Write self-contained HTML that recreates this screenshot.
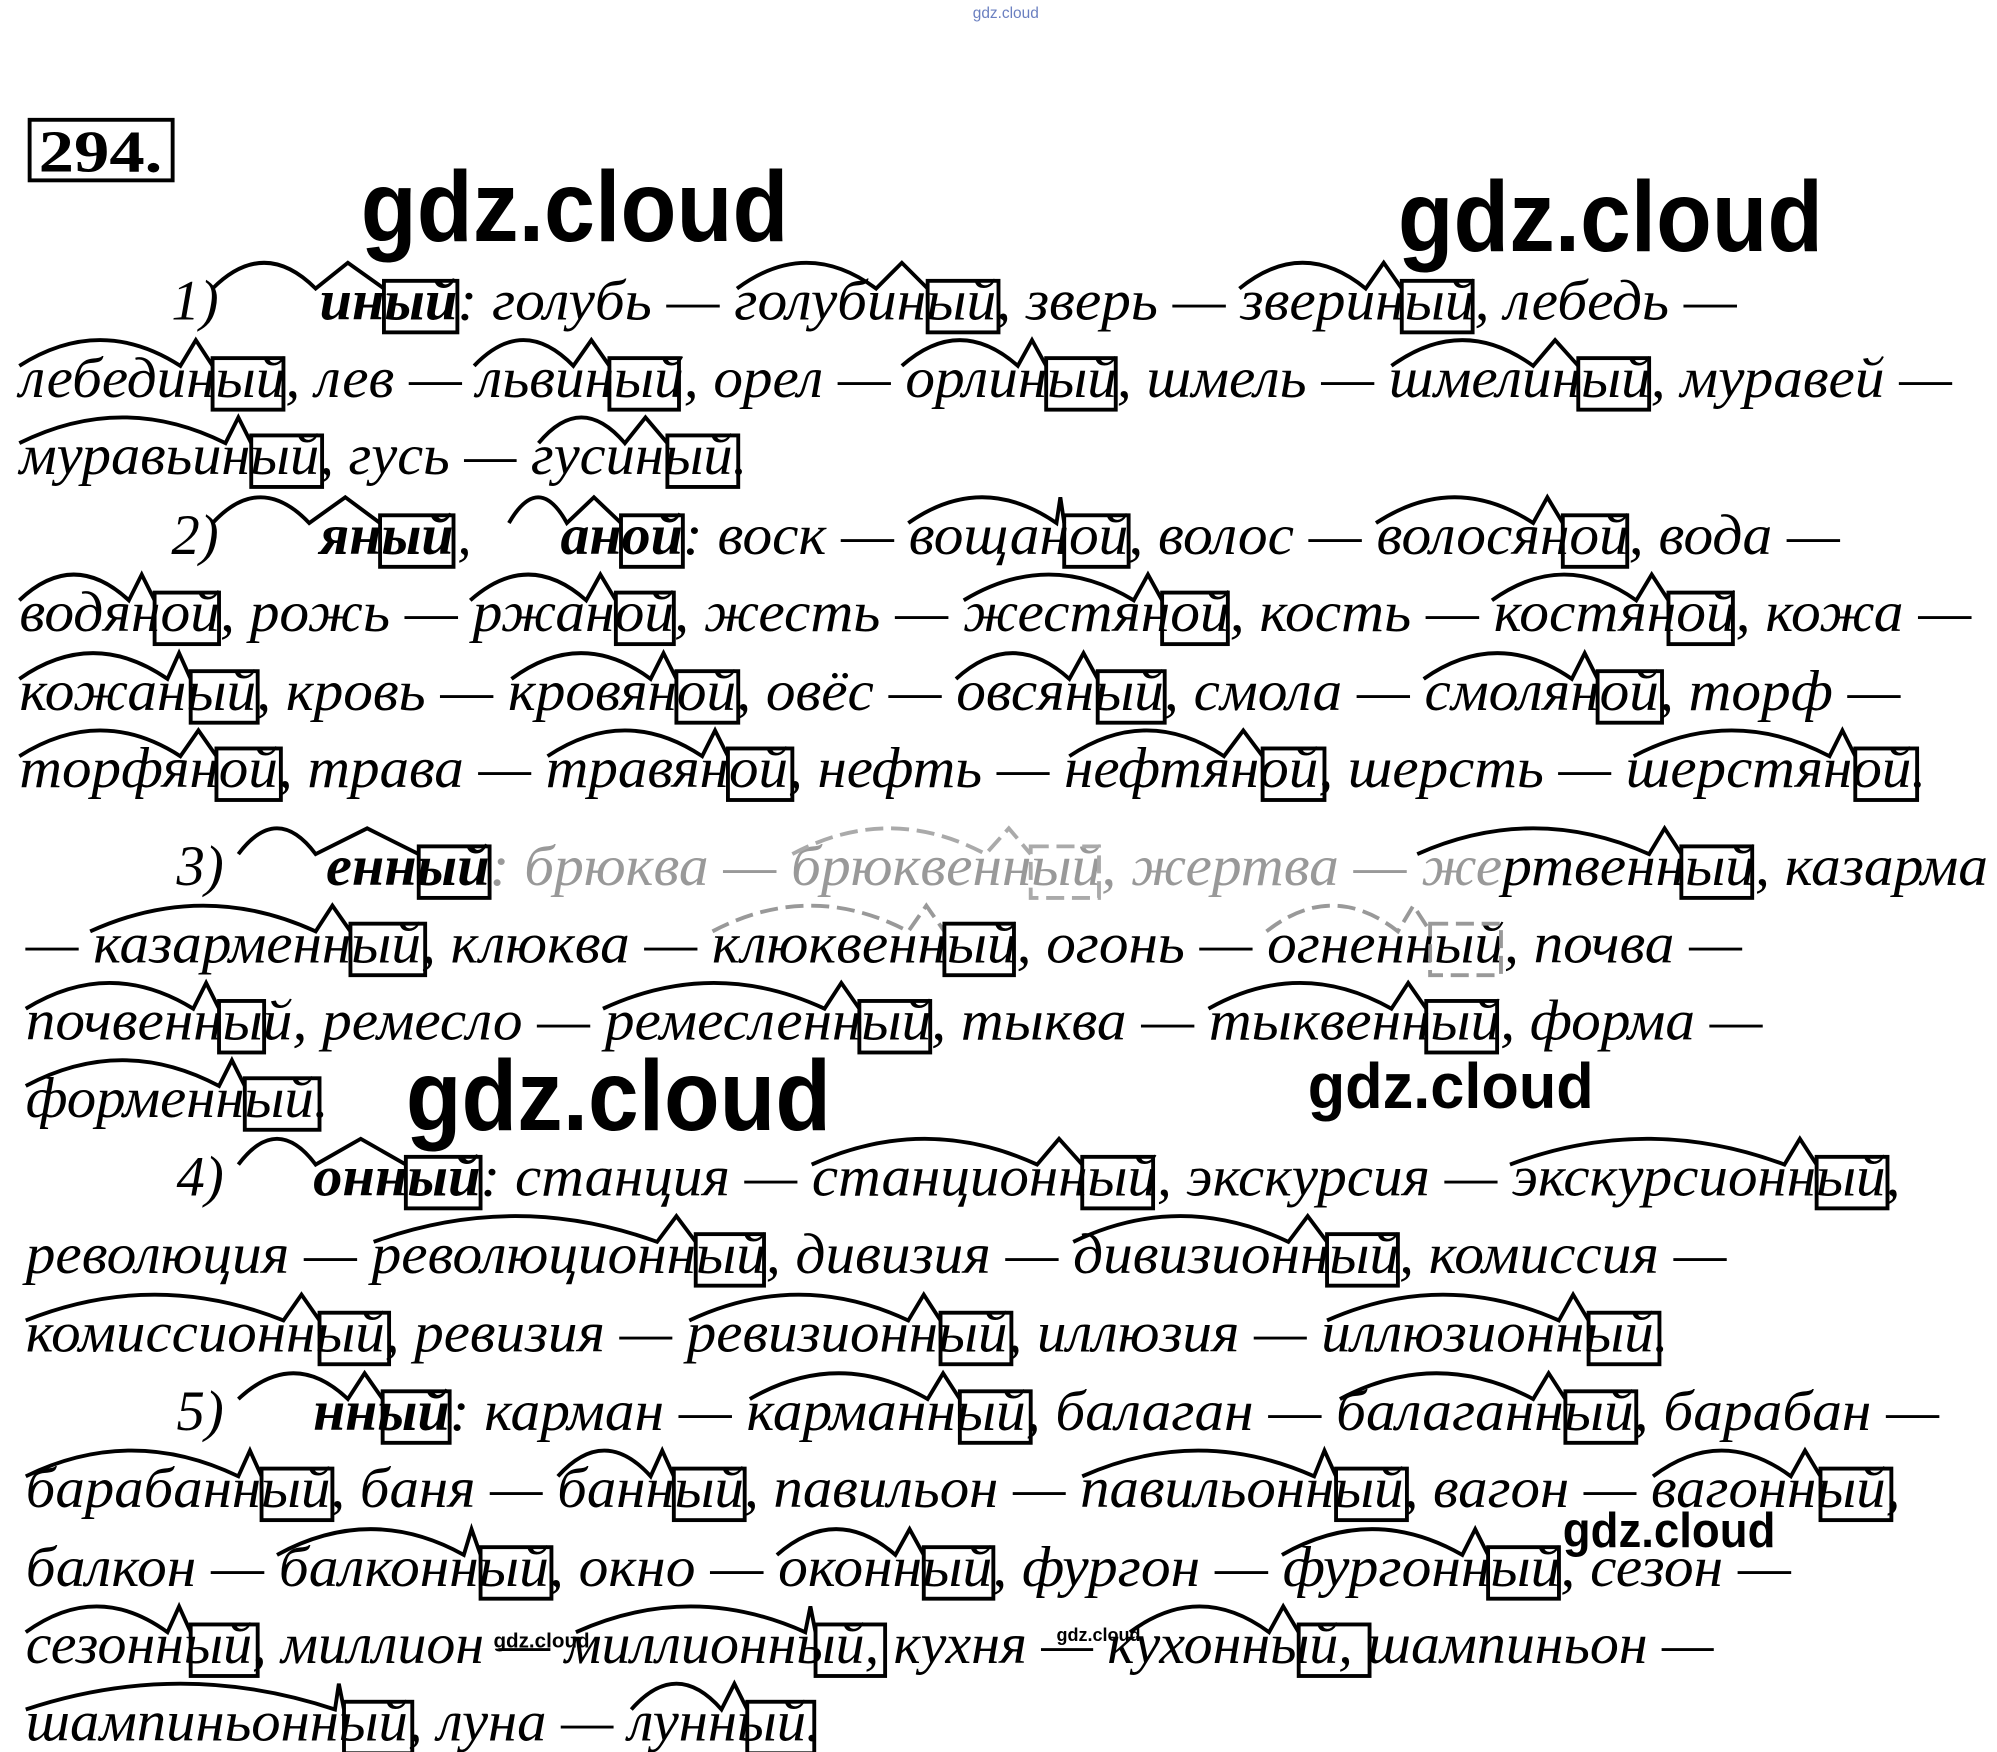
<!DOCTYPE html>
<html><head><meta charset="utf-8"><style>
html,body{margin:0;padding:0;background:#fff;}
svg{display:block;}
.t{font-family:"Liberation Serif",serif;font-style:italic;font-size:44px;fill:#000;}
.b{font-family:"Liberation Serif",serif;font-style:italic;font-weight:bold;font-size:44px;fill:#000;}
.w{font-family:"Liberation Sans",sans-serif;font-weight:bold;fill:#000;}
.m path{fill:none;stroke:#000;stroke-width:3;}
.m rect{fill:none;stroke:#000;stroke-width:3;}
</style></head><body>
<svg width="1997" height="1752" viewBox="0 0 1550 1360" preserveAspectRatio="none" xmlns="http://www.w3.org/2000/svg">
<text x="755" y="14" font-family="Liberation Sans,sans-serif" font-size="12" style="fill:#6a7fc0">gdz.cloud</text>
<rect x="23" y="93" width="111" height="47" fill="none" stroke="#000" stroke-width="3"/>
<text x="30" y="133" font-family="Liberation Serif,serif" font-weight="bold" font-size="46" textLength="96" lengthAdjust="spacingAndGlyphs">294.</text>
<g transform="translate(0,-3)">
<text x="280" y="190" class="w" font-size="78" textLength="332" lengthAdjust="spacingAndGlyphs">gdz.cloud</text>
<text x="1085" y="198" class="w" font-size="78" textLength="330" lengthAdjust="spacingAndGlyphs">gdz.cloud</text>

<text x="133" y="251" class="t">1)</text>
<text x="248" y="251" class="b" textLength="107" lengthAdjust="spacingAndGlyphs">иный</text>
<text x="355" y="251" class="t" textLength="993" lengthAdjust="spacingAndGlyphs">: голубь — голубиный, зверь — звериный, лебедь —</text>
<text x="15" y="311" class="t" textLength="1500" lengthAdjust="spacingAndGlyphs">лебединый, лев — львиный, орел — орлиный, шмель — шмелиный, муравей —</text>
<text x="15" y="371" class="t" textLength="565" lengthAdjust="spacingAndGlyphs">муравьиный, гусь — гусиный.</text>
<text x="133" y="433" class="t">2)</text>
<text x="248" y="433" class="b" textLength="104" lengthAdjust="spacingAndGlyphs">яный</text>
<text x="355" y="433" class="t">,</text>
<text x="435" y="433" class="b" textLength="95" lengthAdjust="spacingAndGlyphs">аной</text>
<text x="530" y="433" class="t" textLength="898" lengthAdjust="spacingAndGlyphs">: воск — вощаной, волос — волосяной, вода —</text>
<text x="15" y="493" class="t" textLength="1515" lengthAdjust="spacingAndGlyphs">водяной, рожь — ржаной, жесть — жестяной, кость — костяной, кожа —</text>
<text x="15" y="554" class="t" textLength="1460" lengthAdjust="spacingAndGlyphs">кожаный, кровь — кровяной, овёс — овсяный, смола — смоляной, торф —</text>
<text x="15" y="614" class="t" textLength="1480" lengthAdjust="spacingAndGlyphs">торфяной, трава — травяной, нефть — нефтяной, шерсть — шерстяной.</text>
<text x="137" y="690" class="t">3)</text>
<text x="253" y="690" class="b" textLength="127" lengthAdjust="spacingAndGlyphs">енный</text>
<text x="380" y="690" class="t" textLength="1163" lengthAdjust="spacingAndGlyphs"><tspan style="fill:#999">: брюква — брюквенный, жертва — же</tspan>ртвенный, казарма</text>
<text x="20" y="750" class="t" textLength="1332" lengthAdjust="spacingAndGlyphs">— казарменный, клюква — клюквенный, огонь — огненный, почва —</text>
<text x="20" y="810" class="t" textLength="1348" lengthAdjust="spacingAndGlyphs">почвенный, ремесло — ремесленный, тыква — тыквенный, форма —</text>
<text x="20" y="870" class="t" textLength="235" lengthAdjust="spacingAndGlyphs">форменный.</text>
<text x="315" y="880" class="w" font-size="78" textLength="330" lengthAdjust="spacingAndGlyphs">gdz.cloud</text>
<text x="1015" y="863" class="w" font-size="50" textLength="222" lengthAdjust="spacingAndGlyphs">gdz.cloud</text>
<text x="137" y="931" class="t">4)</text>
<text x="243" y="931" class="b" textLength="130" lengthAdjust="spacingAndGlyphs">онный</text>
<text x="373" y="931" class="t" textLength="1102" lengthAdjust="spacingAndGlyphs">: станция — станционный, экскурсия — экскурсионный,</text>
<text x="20" y="991" class="t" textLength="1320" lengthAdjust="spacingAndGlyphs">революция — революционный, дивизия — дивизионный, комиссия —</text>
<text x="20" y="1052" class="t" textLength="1275" lengthAdjust="spacingAndGlyphs">комиссионный, ревизия — ревизионный, иллюзия — иллюзионный.</text>
<text x="137" y="1113" class="t">5)</text>
<text x="243" y="1113" class="b" textLength="106" lengthAdjust="spacingAndGlyphs">нный</text>
<text x="349" y="1113" class="t" textLength="1156" lengthAdjust="spacingAndGlyphs">: карман — карманный, балаган — балаганный, барабан —</text>
<text x="20" y="1173" class="t" textLength="1455" lengthAdjust="spacingAndGlyphs">барабанный, баня — банный, павильон — павильонный, вагон — вагонный,</text>
<text x="20" y="1234" class="t" textLength="1370" lengthAdjust="spacingAndGlyphs">балкон — балконный, окно — оконный, фургон — фургонный, сезон —</text>
<text x="20" y="1294" class="t" textLength="1310" lengthAdjust="spacingAndGlyphs">сезонный, миллион — миллионный, кухня — кухонный, шампиньон —</text>
<text x="20" y="1354" class="t" textLength="617" lengthAdjust="spacingAndGlyphs">шампиньонный, луна — лунный.</text>
<text x="1213" y="1204" class="w" font-size="38" textLength="165" lengthAdjust="spacingAndGlyphs">gdz.cloud</text>
<text x="383" y="1282" class="w" font-size="16">gdz.cloud</text>
<text x="820" y="1277" class="w" font-size="14">gdz.cloud</text>
</g>

<g class="m">
<path d="M165,224 Q205,184 245,224 L270,204 L298,224"/><rect x="298" y="218" width="57" height="40"/>
<path d="M572,224 Q626,184 680,224 L700,204 L720,224"/><rect x="720" y="218" width="55" height="40"/>
<path d="M962,224 Q1011,184 1060,224 L1074,204 L1088,224"/><rect x="1088" y="218" width="55" height="40"/>
<path d="M15,284 Q78,244 140,284 L152,264 L165,284"/><rect x="165" y="278" width="55" height="40"/>
<path d="M368,284 Q406,244 445,284 L459,264 L473,284"/><rect x="473" y="278" width="54" height="40"/>
<path d="M700,284 Q745,244 790,284 L801,264 L812,284"/><rect x="812" y="278" width="54" height="40"/>
<path d="M1080,284 Q1135,244 1190,284 L1207,264 L1225,284"/><rect x="1225" y="278" width="55" height="40"/>
<path d="M15,344 Q95,304 175,344 L185,324 L195,344"/><rect x="195" y="338" width="55" height="40"/>
<path d="M418,344 Q451,304 485,344 L501,324 L518,344"/><rect x="518" y="338" width="55" height="40"/>
<path d="M165,406 Q202,366 240,406 L268,386 L295,406"/><rect x="295" y="400" width="57" height="40"/>
<path d="M395,406 Q418,366 440,406 L461,386 L482,406"/><rect x="482" y="400" width="48" height="40"/>
<path d="M705,406 Q762,366 820,406 L823,386 L826,406"/><rect x="826" y="400" width="50" height="40"/>
<path d="M1068,406 Q1129,366 1190,406 L1201,386 L1213,406"/><rect x="1213" y="400" width="50" height="40"/>
<path d="M15,466 Q57,426 100,466 L110,446 L120,466"/><rect x="120" y="460" width="50" height="40"/>
<path d="M365,466 Q410,426 455,466 L466,446 L478,466"/><rect x="478" y="460" width="45" height="40"/>
<path d="M748,466 Q814,426 880,466 L891,446 L902,466"/><rect x="902" y="460" width="51" height="40"/>
<path d="M1158,466 Q1214,426 1270,466 L1282,446 L1295,466"/><rect x="1295" y="460" width="50" height="40"/>
<path d="M15,527 Q72,487 130,527 L139,507 L148,527"/><rect x="148" y="521" width="52" height="40"/>
<path d="M397,527 Q451,487 505,527 L515,507 L525,527"/><rect x="525" y="521" width="48" height="40"/>
<path d="M742,527 Q786,487 830,527 L841,507 L852,527"/><rect x="852" y="521" width="52" height="40"/>
<path d="M1105,527 Q1162,487 1220,527 L1230,507 L1240,527"/><rect x="1240" y="521" width="50" height="40"/>
<path d="M15,587 Q78,547 140,587 L154,567 L168,587"/><rect x="168" y="581" width="50" height="40"/>
<path d="M425,587 Q485,547 545,587 L555,567 L565,587"/><rect x="565" y="581" width="50" height="40"/>
<path d="M830,587 Q890,547 950,587 L965,567 L980,587"/><rect x="980" y="581" width="48" height="40"/>
<path d="M1268,587 Q1344,547 1420,587 L1430,567 L1440,587"/><rect x="1440" y="581" width="48" height="40"/>
<path d="M185,663 Q215,623 245,663 L285,643 L325,663"/><rect x="325" y="657" width="55" height="40"/>
<path d="M615,663 Q690,623 765,663 L783,643 L800,663" style="stroke:#aaa;stroke-dasharray:14 6"/><rect x="800" y="657" width="53" height="40" style="stroke:#aaa;stroke-dasharray:14 6"/>
<path d="M1100,663 Q1190,623 1280,663 L1292,643 L1305,663"/><rect x="1305" y="657" width="55" height="40"/>
<path d="M70,723 Q158,683 245,723 L258,703 L272,723"/><rect x="272" y="717" width="58" height="40"/>
<path d="M553,723 Q629,683 705,723 L719,703 L733,723" style="stroke:#999;stroke-dasharray:14 6"/><rect x="733" y="717" width="54" height="40"/>
<path d="M983,723 Q1034,683 1085,723 L1097,703 L1110,723" style="stroke:#999;stroke-dasharray:14 6"/><rect x="1110" y="717" width="55" height="40" style="stroke:#999;stroke-dasharray:14 6"/>
<path d="M20,783 Q85,743 150,783 L160,763 L170,783"/><rect x="170" y="777" width="35" height="40"/>
<path d="M468,783 Q554,743 640,783 L653,763 L667,783"/><rect x="667" y="777" width="55" height="40"/>
<path d="M938,783 Q1009,743 1080,783 L1093,763 L1107,783"/><rect x="1107" y="777" width="55" height="40"/>
<path d="M20,843 Q95,803 170,843 L180,823 L190,843"/><rect x="190" y="837" width="58" height="40"/>
<path d="M185,904 Q215,864 245,904 L280,884 L315,904"/><rect x="315" y="898" width="58" height="40"/>
<path d="M630,904 Q718,864 805,904 L822,884 L840,904"/><rect x="840" y="898" width="55" height="40"/>
<path d="M1172,904 Q1278,864 1385,904 L1397,884 L1410,904"/><rect x="1410" y="898" width="55" height="40"/>
<path d="M290,964 Q400,924 510,964 L525,944 L540,964"/><rect x="540" y="958" width="53" height="40"/>
<path d="M833,964 Q916,924 1000,964 L1015,944 L1030,964"/><rect x="1030" y="958" width="55" height="40"/>
<path d="M20,1025 Q120,985 220,1025 L234,1005 L248,1025"/><rect x="248" y="1019" width="54" height="40"/>
<path d="M535,1025 Q620,985 705,1025 L717,1005 L730,1025"/><rect x="730" y="1019" width="55" height="40"/>
<path d="M1030,1025 Q1120,985 1210,1025 L1221,1005 L1233,1025"/><rect x="1233" y="1019" width="55" height="40"/>
<path d="M185,1086 Q228,1046 270,1086 L283,1066 L297,1086"/><rect x="297" y="1080" width="52" height="40"/>
<path d="M582,1086 Q651,1046 720,1086 L732,1066 L745,1086"/><rect x="745" y="1080" width="55" height="40"/>
<path d="M1040,1086 Q1115,1046 1190,1086 L1202,1066 L1215,1086"/><rect x="1215" y="1080" width="55" height="40"/>
<path d="M20,1146 Q102,1106 185,1146 L194,1126 L203,1146"/><rect x="203" y="1140" width="55" height="40"/>
<path d="M433,1146 Q469,1106 505,1146 L514,1126 L523,1146"/><rect x="523" y="1140" width="55" height="40"/>
<path d="M840,1146 Q930,1106 1020,1146 L1028,1126 L1037,1146"/><rect x="1037" y="1140" width="55" height="40"/>
<path d="M1283,1146 Q1336,1106 1390,1146 L1401,1126 L1413,1146"/><rect x="1413" y="1140" width="55" height="40"/>
<path d="M215,1207 Q288,1167 360,1207 L366,1187 L373,1207"/><rect x="373" y="1201" width="55" height="40"/>
<path d="M603,1207 Q649,1167 695,1207 L706,1187 L717,1207"/><rect x="717" y="1201" width="54" height="40"/>
<path d="M995,1207 Q1065,1167 1135,1207 L1145,1187 L1155,1207"/><rect x="1155" y="1201" width="55" height="40"/>
<path d="M20,1267 Q75,1227 130,1267 L139,1247 L148,1267"/><rect x="148" y="1261" width="52" height="40"/>
<path d="M447,1267 Q536,1227 625,1267 L629,1247 L633,1267"/><rect x="633" y="1261" width="54" height="40"/>
<path d="M877,1267 Q931,1227 985,1267 L996,1247 L1008,1267"/><rect x="1008" y="1261" width="55" height="40"/>
<path d="M20,1327 Q140,1287 260,1327 L263,1307 L267,1327"/><rect x="267" y="1321" width="53" height="40"/>
<path d="M490,1327 Q525,1287 560,1327 L570,1307 L580,1327"/><rect x="580" y="1321" width="52" height="40"/>
</g>
</svg>
</body></html>
